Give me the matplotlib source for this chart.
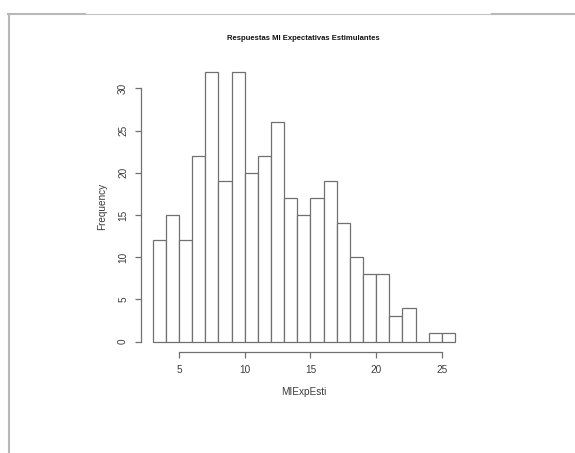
#!/usr/bin/env python3
"""Histogram of MIExpEsti responses, drawn in the style of base R hist()."""

import matplotlib

matplotlib.use("Agg")
import matplotlib.pyplot as plt
from matplotlib.lines import Line2D

# Bin edges (width 1) and the count in each bin
bin_edges = list(range(3, 27))
counts = [12, 15, 12, 22, 32, 19, 32, 20, 22, 26, 17, 15, 17, 19, 14,
          10, 8, 8, 3, 4, 0, 1, 1]
x_ticks = [5, 10, 15, 20, 25]
y_ticks = [0, 5, 10, 15, 20, 25, 30]

TITLE = "Respuestas MI Expectativas Estimulantes"
XLABEL = "MIExpEsti"
YLABEL = "Frequency"

plt.rcParams["font.family"] = ["Liberation Sans", "DejaVu Sans"]

EDGE = "#707070"
TEXT = "#3a3a3a"


def main() -> None:
    fig = plt.figure(figsize=(5.75, 4.53), dpi=100)
    ax = fig.add_axes([0.2445, 0.2219, 0.568, 0.644])

    lefts = bin_edges[:-1]
    widths = [b - a for a, b in zip(bin_edges[:-1], bin_edges[1:])]
    ax.bar(lefts, counts, width=widths, align="edge", color="white",
           edgecolor=EDGE, linewidth=0.9)

    # R pads the data range by 4% on each side
    xr = bin_edges[-1] - bin_edges[0]
    ymax = max(counts)
    ax.set_xlim(bin_edges[0] - 0.04 * xr, bin_edges[-1] + 0.04 * xr)
    ax.set_ylim(-0.04 * ymax, ymax * 1.04)

    for side in ("top", "right"):
        ax.spines[side].set_visible(False)
    ax.spines["left"].set_bounds(y_ticks[0], y_ticks[-1])
    ax.spines["bottom"].set_bounds(x_ticks[0], x_ticks[-1])
    for side in ("left", "bottom"):
        ax.spines[side].set_color(EDGE)
        ax.spines[side].set_linewidth(0.9)

    ax.set_xticks(x_ticks)
    ax.set_yticks(y_ticks)
    ax.tick_params(direction="out", length=4, width=0.9, color=EDGE,
                   labelsize=7.2, labelcolor=TEXT, pad=5)
    for lab in ax.get_yticklabels():
        lab.set_rotation(90)
        lab.set_va("center")

    ax.set_xlabel(XLABEL, fontsize=7.2, color=TEXT, labelpad=9)
    ax.set_ylabel(YLABEL, fontsize=7.2, color=TEXT, labelpad=8)
    fig.text(0.528, 1 - 38 / 453, TITLE, ha="center", va="center",
             fontsize=5.5, fontweight="bold", color="#111111")

    # grey frame along the top and left edges
    def hline(x0, x1, y, lw, col):
        fig.add_artist(Line2D([x0 / 575, x1 / 575], [1 - y / 453] * 2,
                              color=col, linewidth=lw))

    hline(8, 85, 14, 1.5, "#b8b8b8")
    hline(85, 492, 13.5, 0.8, "#c4c4c4")
    hline(492, 575, 14, 1.5, "#b8b8b8")
    fig.add_artist(Line2D([8.5 / 575] * 2, [1 - 14 / 453, 0],
                          color="#b8b8b8", linewidth=1.5))

    fig.savefig("out.png", dpi=100)


if __name__ == "__main__":
    main()
